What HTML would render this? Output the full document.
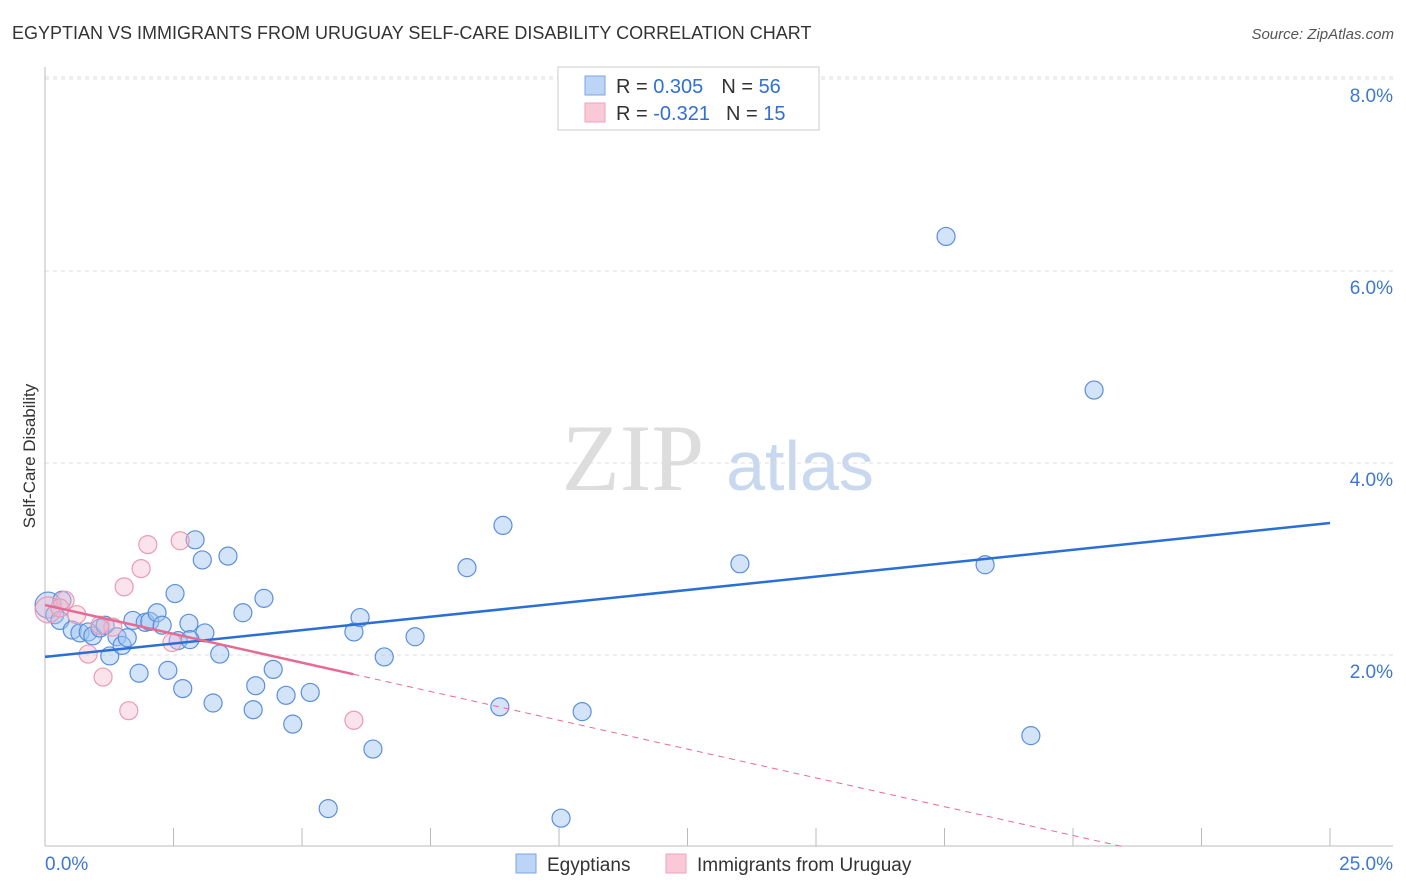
<!DOCTYPE html>
<html><head><meta charset="utf-8"><style>
body{margin:0;background:#fff;font-family:"Liberation Sans",sans-serif;}
svg{display:block}
</style></head><body>
<svg id="chart" width="1406" height="892" font-family="Liberation Sans, sans-serif">
<text x="12" y="39" font-size="18" fill="#333">EGYPTIAN VS IMMIGRANTS FROM URUGUAY SELF-CARE DISABILITY CORRELATION CHART</text>
<text x="1394" y="39" font-size="15" fill="#555" font-style="italic" text-anchor="end">Source: ZipAtlas.com</text>
<text x="35" y="456" font-size="17" fill="#333" transform="rotate(-90 35 456)" text-anchor="middle">Self-Care Disability</text>
<g><text x="633" y="490" font-size="95" fill="#ddd" text-anchor="middle" font-family="Liberation Serif, serif">ZIP</text><text x="800" y="490" font-size="70" fill="#c8d8ee" text-anchor="middle">atlas</text></g>
<g id="grid"></g>
<g id="axes"></g>
<g id="marks"></g>
<g>
<rect x="558" y="67" width="261" height="63" fill="#fff" stroke="#ccc"/>
<rect x="585" y="76" width="20" height="19" fill="#bcd4f6" stroke="#7aa6e4"/>
<rect x="585" y="103" width="20" height="19" fill="#f9c9d7" stroke="#eea2b9"/>
<text x="616" y="93" font-size="20" fill="#333">R = <tspan fill="#2f6fd6">0.305</tspan><tspan dx="18">N = </tspan><tspan fill="#2f6fd6">56</tspan></text>
<text x="616" y="120" font-size="20" fill="#333">R = <tspan fill="#2f6fd6">-0.321</tspan><tspan dx="16">N = </tspan><tspan fill="#2f6fd6">15</tspan></text>
</g>
<g>
<rect x="516" y="854" width="20" height="19" fill="#bcd4f6" stroke="#7aa6e4"/>
<text x="547" y="871" font-size="19" fill="#333">Egyptians</text>
<rect x="666" y="854" width="20" height="19" fill="#f9c9d7" stroke="#eea2b9"/>
<text x="697" y="871" font-size="19" fill="#333">Immigrants from Uruguay</text>
</g>
</svg>
<script>
const blueX=[0.06,0.19,0.29,0.53,0.68,0.84,0.93,1.07,1.17,1.26,1.40,1.50,1.60,1.71,1.83,1.95,2.04,2.18,2.28,2.39,2.53,2.59,2.68,2.80,2.92,3.06,3.11,3.27,3.40,3.56,3.85,4.05,4.10,4.26,4.44,4.69,4.82,5.16,5.51,6.01,6.13,6.38,6.60,7.20,8.21,8.85,8.91,10.04,10.45,13.52,17.53,18.29,19.18,20.41,0.33,2.82];
const blueY=[2.52,2.42,2.36,2.26,2.23,2.24,2.20,2.28,2.31,1.99,2.19,2.10,2.18,2.36,1.81,2.34,2.35,2.44,2.31,1.84,2.64,2.15,1.65,2.33,3.20,2.99,2.23,1.50,2.01,3.03,2.44,1.43,1.68,2.59,1.85,1.58,1.28,1.61,0.40,2.24,2.39,1.02,1.98,2.19,2.91,1.46,3.35,0.30,1.41,2.95,6.36,2.94,1.16,4.76,2.57,2.16];
const pinkX=[0.06,0.39,0.62,0.84,1.13,1.32,1.54,1.63,1.87,2.00,2.47,2.63,6.01,0.29,1.07];
const pinkY=[2.47,2.57,2.42,2.01,1.77,2.29,2.71,1.42,2.90,3.15,2.13,3.19,1.32,2.49,2.31];
const yTicks=[2,4,6,8];
const yTickLabels=["2.0%","4.0%","6.0%","8.0%"];
const xTicks=[0,2.5,5,7.5,10,12.5,15,17.5,20,22.5,25];
const blueTrend=[1.98,3.375];
const pinkTrend=[2.52,-0.12];
const NS="http://www.w3.org/2000/svg";
const X=v=>45+v/25*1285, Y=v=>847-v*96;
function mk(tag,attrs,parent){const e=document.createElementNS(NS,tag);for(const k in attrs)e.setAttribute(k,attrs[k]);document.getElementById(parent).appendChild(e);return e;}
yTicks.forEach((t,i)=>{
 const l=mk('line',{x1:45,x2:1393,y1:Y(t),y2:Y(t),stroke:'#ddd','stroke-dasharray':'4 4'},'grid');
 
 
 const tx=mk('text',{x:1393,y:Y(t)+23,'font-size':19,fill:'#3f77d4','text-anchor':'end'},'grid');
 tx.textContent=yTickLabels[i];
 
 
});
{const l=mk('line',{x1:45,x2:1393,y1:Y(8)-2,y2:Y(8)-2,stroke:'#ddd','stroke-dasharray':'4 4'},'grid');

}
{const a=mk('line',{x1:45,x2:45,y1:67,y2:846,stroke:'#bbb'},'axes');


const b=mk('line',{x1:45,x2:1393,y1:846,y2:846,stroke:'#bbb'},'axes');

}
xTicks.forEach(t=>{const l=mk('line',{x1:X(t),x2:X(t),y1:828,y2:846,stroke:'#bbb'},'axes');

});
{const a=mk('text',{x:45,y:870,'font-size':19,fill:'#3f77d4'},'axes');a.textContent='0.0%';


const b=mk('text',{x:1393,y:870,'font-size':19,fill:'#3f77d4','text-anchor':'end'},'axes');b.textContent='25.0%';

}
blueX.forEach((x,i)=>{const c=mk('circle',{cx:X(x),cy:Y(blueY[i]),r:i==0?13:9,fill:'rgba(160,195,240,0.45)',stroke:'#5b8fdc','stroke-width':1.2},'marks');

});
pinkX.forEach((x,i)=>{const c=mk('circle',{cx:X(x),cy:Y(pinkY[i]),r:i==0?13:9,fill:'rgba(246,185,205,0.4)',stroke:'#ec9ab4','stroke-width':1.2},'marks');

});
{const l=mk('line',{x1:X(0),y1:Y(blueTrend[0]),x2:X(25),y2:Y(blueTrend[1]),stroke:'#2a6fd6','stroke-width':2.5},'marks');


const xe=6.0, xz=-pinkTrend[0]/pinkTrend[1];
const p=mk('line',{x1:X(0),y1:Y(pinkTrend[0]),x2:X(xe),y2:Y(pinkTrend[0]+pinkTrend[1]*xe),stroke:'#e86a92','stroke-width':2.5},'marks');


const d=mk('line',{x1:X(xe),y1:Y(pinkTrend[0]+pinkTrend[1]*xe),x2:X(xz),y2:Y(0),stroke:'#e86a92','stroke-width':1,'stroke-dasharray':'6 5'},'marks');

}
</script>
</body></html>
